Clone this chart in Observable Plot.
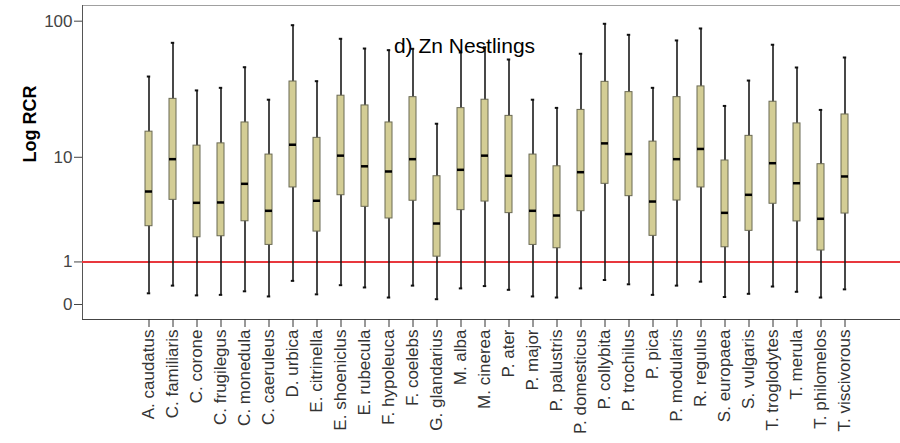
<!DOCTYPE html>
<html>
<head>
<meta charset="utf-8">
<script src="https://cdn.jsdelivr.net/npm/d3@7"></script>
<script src="https://cdn.jsdelivr.net/npm/@observablehq/plot@0.6"></script>
<style>
  html, body { margin: 0; padding: 0; background: #fff; overflow: hidden; }
  #chart svg { display: block; }
</style>
</head>
<body>
<div id="chart"></div>
<script>
const species = ["A. caudatus","C. familiaris","C. corone","C. frugilegus","C. monedula","C. caeruleus","D. urbica","E. citrinella","E. shoeniclus","E. rubecula","F. hypoleuca","F. coelebs","G. glandarius","M. alba","M. cinerea","P. ater","P. major","P. palustris","P. domesticus","P. collybita","P. trochilus","P. pica","P. modularis","R. regulus","S. europaea","S. vulgaris","T. troglodytes","T. merula","T. philomelos","T. viscivorous"];
const whiskerLow  = [0.20,0.36,0.16,0.17,0.24,0.14,0.47,0.18,0.37,0.32,0.12,0.36,0.09,0.30,0.35,0.27,0.14,0.12,0.30,0.49,0.39,0.17,0.36,0.45,0.13,0.19,0.34,0.23,0.12,0.28];
const quartile1   = [2.58,4.50,1.99,2.04,2.88,1.64,5.73,2.28,4.93,3.91,3.06,4.42,1.18,3.65,4.35,3.43,1.64,1.50,3.57,6.14,4.84,2.06,4.44,5.73,1.54,2.32,4.16,2.87,1.41,3.40];
const medianVal   = [5.3,9.67,4.24,4.27,6.14,3.60,12.5,4.42,10.3,8.5,7.73,9.67,2.74,7.97,10.3,7.14,3.60,3.26,7.63,12.8,10.6,4.35,9.67,11.6,3.45,4.97,8.99,6.21,3.04,7.05];
const quartile3   = [15.7,27.5,12.3,12.8,18.4,10.5,36.8,14.1,29.0,24.6,18.4,28.3,7.08,23.5,27.1,20.6,10.5,8.5,22.8,36.6,30.8,13.2,28.3,33.9,9.44,14.6,26.2,18.1,8.83,21.1];
const whiskerHigh = [40.0,70.0,31.7,33.1,46.7,27.1,93.6,37.0,74.8,63.7,62.0,63.4,18.0,59.6,65.0,53.1,27.1,23.6,58.4,95.8,79.9,33.1,72.8,88.7,24.4,37.4,67.8,46.5,22.8,54.9];
const yTicks = [0, 1, 10, 100];
const referenceLine = [1];
const titleText = "d) Zn Nestlings";
const yLabelText = "Log RCR";

const rows = species.map((s, i) => ({
  species: s,
  low: whiskerLow[i],
  q1: quartile1[i],
  median: medianVal[i],
  q3: quartile3[i],
  high: whiskerHigh[i]
}));

const chart = Plot.plot({
  width: 900,
  height: 443,
  marginLeft: 82,
  marginRight: 0,
  marginTop: 5,
  marginBottom: 124,
  style: {fontFamily: "Arial, 'Liberation Sans', sans-serif", background: "white", color: "#222"},
  x: {type: "band", domain: species, range: [82, 910.7], paddingInner: 0.706, paddingOuter: 2.01, align: 0.5, label: null},
  y: {type: "symlog", constant: 1, domain: [-0.2768, 129.4], label: null},
  marks: [
    Plot.frame({anchor: "top", stroke: "#a0a0a0"}),
    Plot.frame({anchor: "left", stroke: "#555"}),
    Plot.frame({anchor: "bottom", stroke: "#444"}),
    Plot.ruleY(referenceLine, {stroke: "#e8383d", strokeWidth: 2}),
    Plot.ruleX(rows, {x: "species", y1: "low", y2: "high", stroke: "#1a1a1a", strokeWidth: 1.6}),
    Plot.tickY(rows, {x: "species", y: "low", insetLeft: 1.8, insetRight: 1.8, stroke: "#111", strokeWidth: 2}),
    Plot.tickY(rows, {x: "species", y: "high", insetLeft: 1.8, insetRight: 1.8, stroke: "#111", strokeWidth: 2}),
    Plot.barY(rows, {x: "species", y1: "q1", y2: "q3", fill: "#d3cd95", stroke: "#6b6a55", strokeWidth: 1}),
    Plot.tickY(rows, {x: "species", y: "median", stroke: "#000", strokeWidth: 2.5}),
    Plot.axisY({ticks: yTicks, tickFormat: d => String(d), tickSize: 8, tickPadding: 2, fontSize: 17, color: "#444", label: null}),
    Plot.axisX({tickRotate: -90, tickSize: 8, tickPadding: 2, fontSize: 17, color: "#333", label: null}),
    Plot.text([yLabelText], {frameAnchor: "left", dx: -52, rotate: -90, fontSize: 18, fontWeight: "bold", fill: "#000"}),
    Plot.text([titleText], {frameAnchor: "top", dx: -27, dy: 33, fontSize: 21, fill: "#000"})
  ]
});
document.getElementById("chart").appendChild(chart);
</script>
</body>
</html>
